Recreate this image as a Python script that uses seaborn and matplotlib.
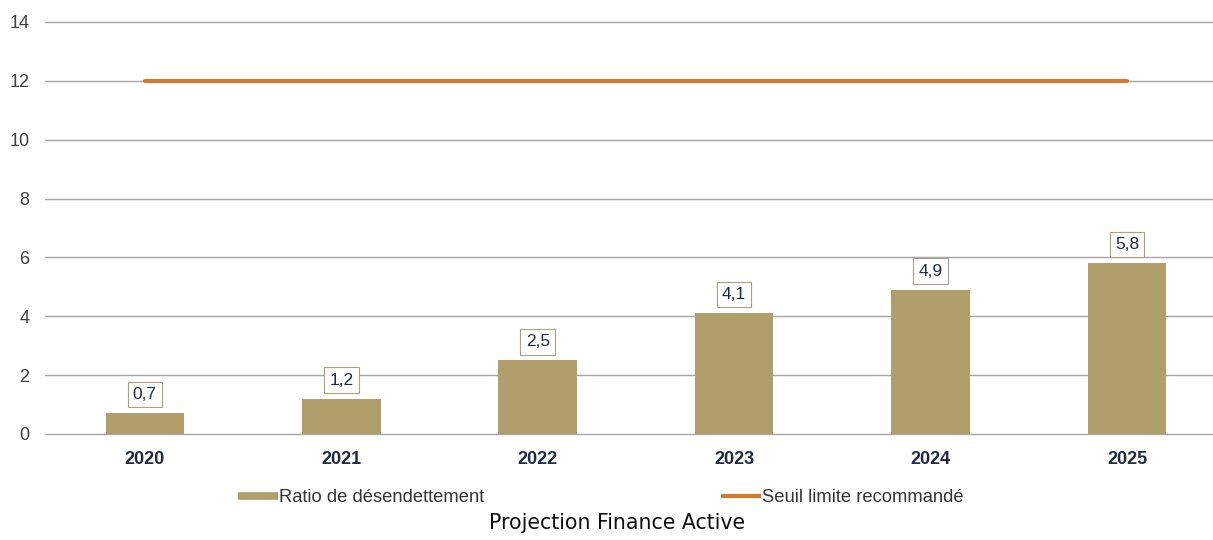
import matplotlib
matplotlib.use("Agg")
import matplotlib.pyplot as plt
from matplotlib.lines import Line2D
import seaborn as sns
import pandas as pd

# Debt-reduction ratio (years) per year and recommended ceiling
years = ["2020", "2021", "2022", "2023", "2024", "2025"]
ratio = [0.7, 1.2, 2.5, 4.1, 4.9, 5.8]
threshold = [12, 12, 12, 12, 12, 12]
y_ticks = [0, 2, 4, 6, 8, 10, 12, 14]

bar_color = "#b09f6b"
line_color = "#d27a2e"
navy = "#1f2a44"

sns.set_theme(style="white")
plt.rcParams["font.family"] = ["Liberation Sans", "DejaVu Sans"]

df = pd.DataFrame({"year": years, "ratio": ratio, "threshold": threshold})

fig = plt.figure(figsize=(12.13, 5.40), dpi=100)
ax = fig.add_axes([0.037, 0.1963, 0.963, 0.763])

sns.barplot(data=df, x="year", y="ratio", color=bar_color, width=0.4,
            saturation=1, linewidth=0, ax=ax, zorder=3)
ax.plot(range(len(years)), df["threshold"], color=line_color, lw=3.0,
        solid_capstyle="round", zorder=4)

labels = [f"{v:.1f}".replace(".", ",") for v in ratio]
ax.bar_label(ax.containers[0], labels=labels, padding=8, fontsize=12.5,
             color=navy,
             bbox=dict(boxstyle="square,pad=0.3", fc="white", ec="#a9a383", lw=0.8))

ax.set_ylim(0, 14)
ax.set_xlim(-0.509, 5.438)
ax.set_yticks(y_ticks)
ax.set_yticklabels([str(t) for t in y_ticks])
ax.yaxis.grid(True, color="#a6a6a6", lw=1.0, zorder=0)
ax.set_axisbelow(True)
for gl in ax.get_ygridlines():
    gl.set_clip_on(False)
for s in ax.spines.values():
    s.set_visible(False)
ax.tick_params(axis="y", length=0, pad=11, labelsize=13, labelcolor="#404040")
ax.tick_params(axis="x", length=0, pad=12, labelsize=13, labelcolor=navy)
for t in ax.get_xticklabels():
    t.set_fontweight("bold")
ax.set_xlabel("")
ax.set_ylabel("")

handles = [
    Line2D([], [], color=bar_color, lw=5.5, solid_capstyle="butt"),
    Line2D([], [], color=line_color, lw=3.0, solid_capstyle="butt"),
]
fig.legend(handles, ["Ratio de désendettement", "Seuil limite recommandé"],
           loc="center left", bbox_to_anchor=(238 / 1213, 0.0778), ncol=2,
           frameon=False, fontsize=13.2, handlelength=2.2, handletextpad=0.05,
           columnspacing=12.9, borderpad=0, borderaxespad=0,
           labelcolor="#333333")

fig.text(0.509, 0.031, "Projection Finance Active", ha="center", va="center",
         fontsize=14.8, family="DejaVu Sans", color="#111111")

fig.savefig("out.png", dpi=100, facecolor="white")
